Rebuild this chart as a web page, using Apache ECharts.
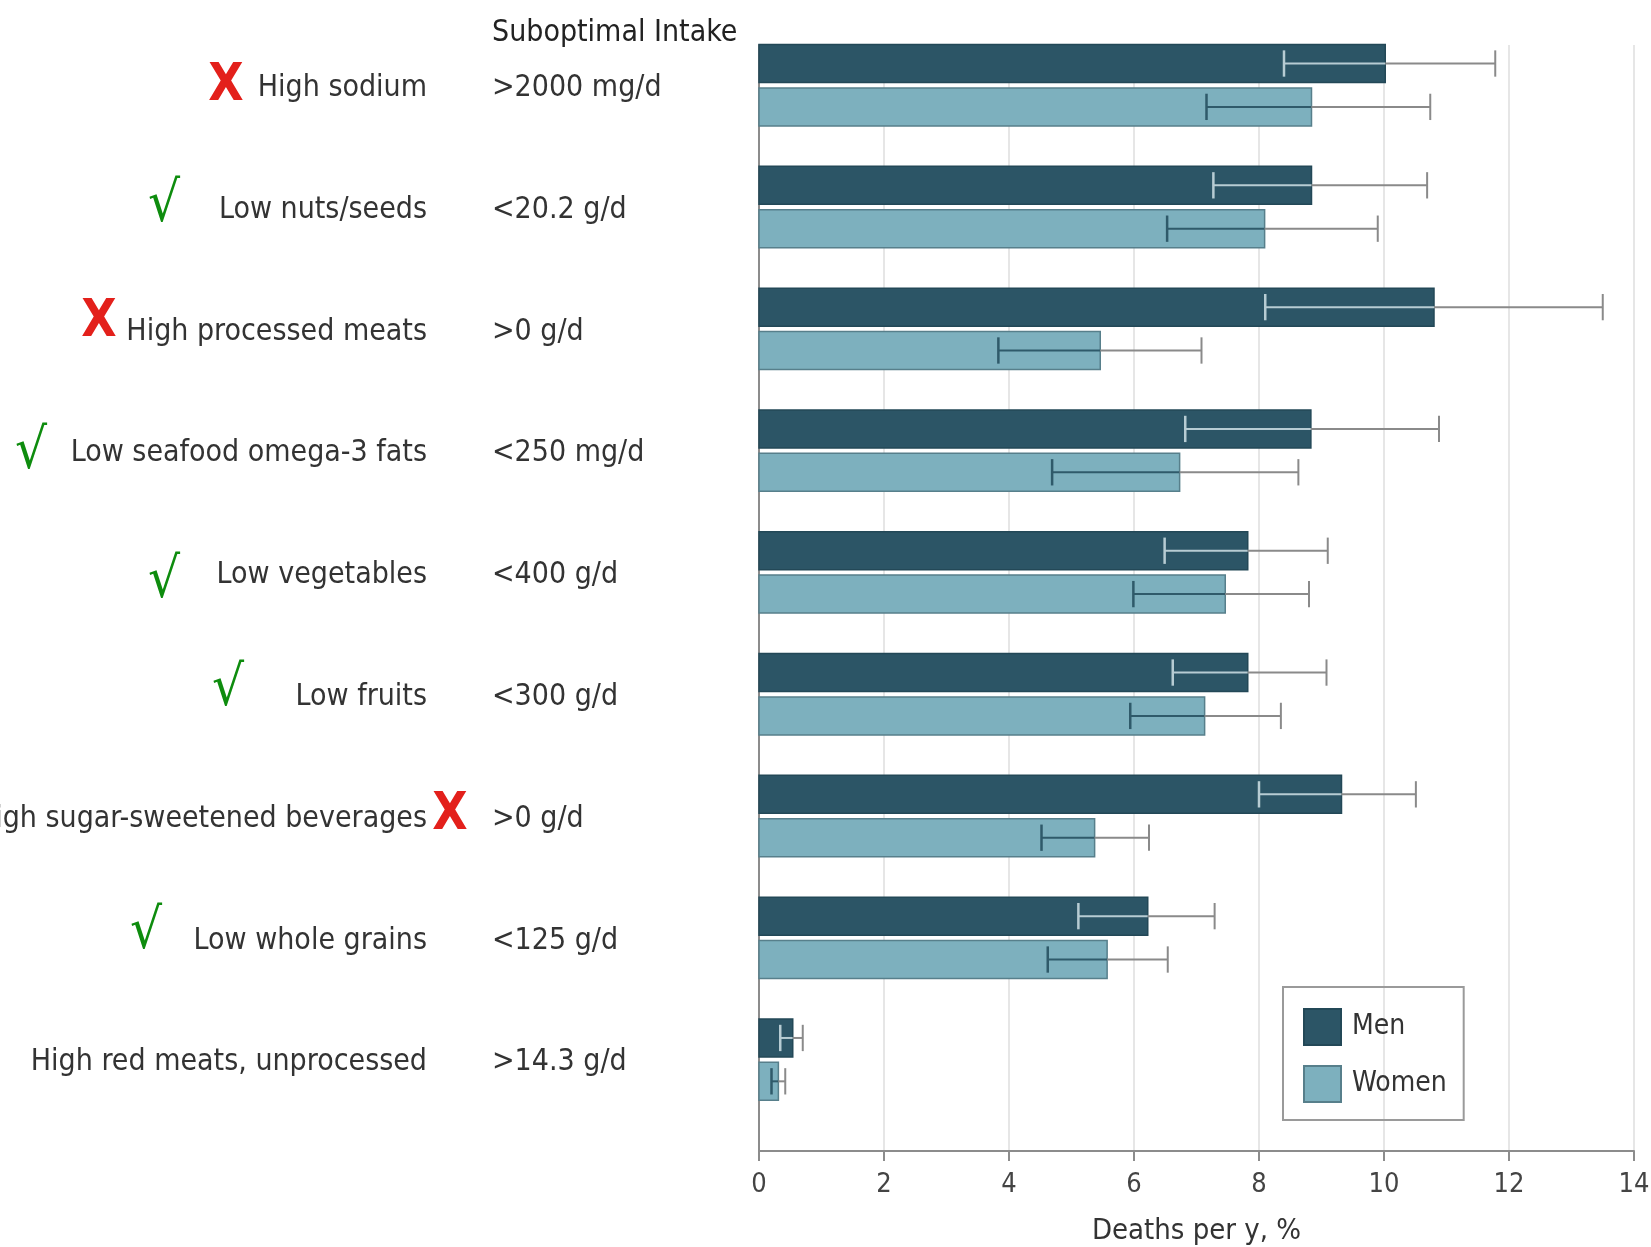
<!DOCTYPE html>
<html>
<head>
<meta charset="utf-8">
<title>Deaths per year attributable to suboptimal dietary intake</title>
<script src="https://cdn.jsdelivr.net/npm/echarts@6/dist/echarts.min.js"></script>
<style>
  html, body { margin: 0; padding: 0; background: #ffffff; }
  #chart { width: 1651px; height: 1247px; }
</style>
</head>
<body>
<div id="chart"></div>
<script>
// ---- data ----
const factors = [
  'High sodium',
  'Low nuts/seeds',
  'High processed meats',
  'Low seafood omega-3 fats',
  'Low vegetables',
  'Low fruits',
  'High sugar-sweetened beverages',
  'Low whole grains',
  'High red meats, unprocessed'
];
const intakes = ['>2000 mg/d', '<20.2 g/d', '>0 g/d', '<250 mg/d', '<400 g/d', '<300 g/d', '>0 g/d', '<125 g/d', '>14.3 g/d'];
const marks = ['X', '√', 'X', '√', '√', '√', 'X', '√', ''];

const menValues  = [10.02, 8.84, 10.80, 8.83, 7.82, 7.82, 9.32, 6.22, 0.54];
const menLower   = [ 8.40, 7.27,  8.10, 6.82, 6.49, 6.62, 8.00, 5.11, 0.34];
const menUpper   = [11.78, 10.69, 13.50, 10.88, 9.10, 9.08, 10.51, 7.29, 0.70];

const womenValues = [8.84, 8.09, 5.46, 6.73, 7.46, 7.13, 5.37, 5.57, 0.31];
const womenLower  = [7.16, 6.53, 3.83, 4.69, 5.99, 5.94, 4.52, 4.62, 0.20];
const womenUpper  = [10.74, 9.90, 7.08, 8.63, 8.80, 8.35, 6.24, 6.54, 0.42];

const xTicks = [0, 2, 4, 6, 8, 10, 12, 14];

// ---- layout & style ----
const FONT = "'DejaVu Sans Condensed', 'DejaVu Sans', sans-serif";
const TEXT_COLOR = '#333333';
const LABEL_SIZE = 30;
const MEN_FILL = '#2c5566';
const MEN_STROKE = '#234857';
const WOMEN_FILL = '#7db0be';
const WOMEN_STROKE = '#577f8b';
const ERR_OUT = '#8a8a8a';
const NAME_RIGHT = 427;      // right edge of risk-factor names
const INTAKE_LEFT = 492;     // left edge of intake thresholds
const TEXT_DY = 3;           // optical centring of label text on the group
// horizontal centre and vertical shift of each check / cross mark
const markLayout = [[226, 2], [164, -1], [99, -6], [31, 3], [164, 10], [228, -4], [450, 0], [146, -4], [0, 0]];

const chart = echarts.init(document.getElementById('chart'), null, { renderer: 'canvas' });

function barSeries(name, values, lower, upper, side, fill, stroke, errIn) {
  return {
    type: 'custom',
    name: name,
    itemStyle: { color: fill, borderColor: stroke },
    encode: { x: [1, 2, 3], y: 0 },
    data: values.map((v, i) => [i, v, lower[i], upper[i]]),
    renderItem: function (params, api) {
      const cat = api.value(0);
      const band = api.size([0, 1])[1];
      const base = api.coord([0, cat]);
      const cy = base[1] + side * band * 0.178;
      const h = band * 0.312;
      const xEnd = api.coord([api.value(1), cat])[0];
      const xLo = api.coord([api.value(2), cat])[0];
      const xHi = api.coord([api.value(3), cat])[0];
      const cap = band * 0.108;
      return {
        type: 'group',
        children: [
          { type: 'rect', shape: { x: base[0], y: cy - h / 2, width: xEnd - base[0], height: h },
            style: { fill: fill, stroke: stroke, lineWidth: 1.5 } },
          { type: 'line', shape: { x1: xLo, y1: cy, x2: xEnd, y2: cy }, style: { stroke: errIn, lineWidth: 2 } },
          { type: 'line', shape: { x1: xEnd, y1: cy, x2: xHi, y2: cy }, style: { stroke: ERR_OUT, lineWidth: 2 } },
          { type: 'line', shape: { x1: xLo, y1: cy - cap, x2: xLo, y2: cy + cap }, style: { stroke: errIn, lineWidth: 2.5 } },
          { type: 'line', shape: { x1: xHi, y1: cy - cap, x2: xHi, y2: cy + cap }, style: { stroke: ERR_OUT, lineWidth: 2 } }
        ]
      };
    }
  };
}

const labelSeries = {
  type: 'custom',
  name: 'labels',
  silent: true,
  encode: { x: 0, y: 1 },
  data: factors.map((f, i) => [0, i]),
  renderItem: function (params, api) {
    const i = params.dataIndex;
    const cy = api.coord([0, api.value(1)])[1];
    const children = [
      { type: 'text', style: { x: NAME_RIGHT, y: cy + TEXT_DY, text: factors[i], align: 'right', verticalAlign: 'middle',
          fontSize: LABEL_SIZE, fontFamily: FONT, fill: TEXT_COLOR } },
      { type: 'text', style: { x: INTAKE_LEFT, y: cy + TEXT_DY, text: intakes[i], align: 'left', verticalAlign: 'middle',
          fontSize: LABEL_SIZE, fontFamily: FONT, fill: TEXT_COLOR } }
    ];
    if (marks[i]) {
      const isCross = marks[i] === 'X';
      children.push({ type: 'text', style: {
        x: markLayout[i][0], y: cy + markLayout[i][1], text: marks[i], align: 'center', verticalAlign: 'middle',
        fontSize: isCross ? 51 : 56, fontWeight: isCross ? 'bold' : 'normal', fontFamily: FONT,
        fill: isCross ? '#e3201b' : '#0e8c0e' } });
    }
    return { type: 'group', children: children };
  }
};

chart.setOption({
  backgroundColor: '#ffffff',
  animation: false,
  title: {
    text: 'Suboptimal Intake',
    left: INTAKE_LEFT, top: 18,
    padding: 0,
    textStyle: { fontSize: LABEL_SIZE, fontWeight: 'normal', color: '#222222', fontFamily: FONT }
  },
  grid: { left: 759, right: 17, top: 45, bottom: 96, containLabel: false, outerBoundsMode: 'none' },
  legend: {
    orient: 'vertical',
    left: 1283, top: 987,
    icon: 'rect',
    itemWidth: 37, itemHeight: 36, itemGap: 19,
    padding: [21, 17, 17, 20],
    borderColor: '#9a9a9a', borderWidth: 2,
    textStyle: { fontSize: 28, color: TEXT_COLOR, fontFamily: FONT, padding: [0, 0, 0, 6] },
    data: [
      { name: 'Men', itemStyle: { color: MEN_FILL, borderColor: MEN_STROKE, borderWidth: 2 } },
      { name: 'Women', itemStyle: { color: WOMEN_FILL, borderColor: WOMEN_STROKE, borderWidth: 2 } }
    ]
  },
  xAxis: {
    type: 'value',
    min: xTicks[0], max: xTicks[xTicks.length - 1], interval: xTicks[1] - xTicks[0],
    axisLine: { show: true, onZero: false, lineStyle: { color: '#8c8c8c', width: 2 } },
    axisTick: { show: true, length: 10, lineStyle: { color: '#8c8c8c', width: 2 } },
    splitLine: { show: true, lineStyle: { color: '#dedede', width: 1.5 } },
    axisLabel: { fontSize: 27, color: '#444444', margin: 20, fontFamily: FONT },
    name: 'Deaths per y, %',
    nameLocation: 'middle', nameGap: 66,
    nameTextStyle: { fontSize: 29, color: TEXT_COLOR, fontFamily: FONT }
  },
  yAxis: {
    type: 'value',
    inverse: true,
    min: -0.33, max: 8.75,
    axisLine: { show: true, onZero: false, lineStyle: { color: '#8c8c8c', width: 2 } },
    axisTick: { show: false },
    axisLabel: { show: false },
    splitLine: { show: false }
  },
  series: [
    barSeries('Men', menValues, menLower, menUpper, -1, MEN_FILL, MEN_STROKE, '#b7ccd3'),
    barSeries('Women', womenValues, womenLower, womenUpper, 1, WOMEN_FILL, WOMEN_STROKE, '#2f5a6a'),
    labelSeries
  ]
});
</script>
</body>
</html>
